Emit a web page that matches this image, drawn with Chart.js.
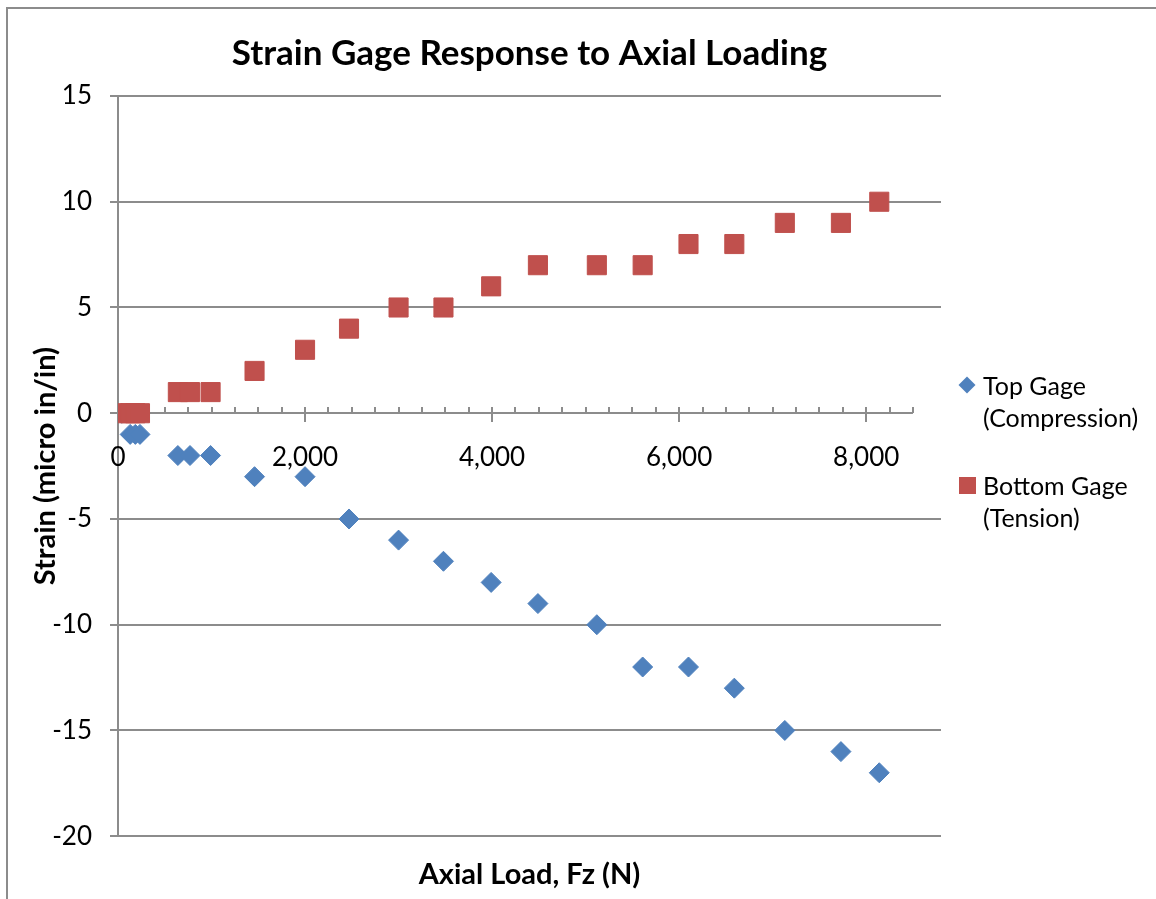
<!DOCTYPE html>
<html>
<head>
<meta charset="utf-8">
<title>Strain Gage Response to Axial Loading</title>
<script src="https://cdn.jsdelivr.net/npm/chart.js@4.4.1/dist/chart.umd.min.js"></script>
<style>
  html, body { margin: 0; padding: 0; background: #fff; }
  #wrap { position: relative; width: 1156px; height: 899px; overflow: hidden; }
  #frame { position: absolute; left: 6px; top: 7px; width: 1300px; height: 1000px;
           border-left: 2px solid #8c8c8c; border-top: 2px solid #8c8c8c; }
  canvas { position: absolute; left: 0; top: 0; }
  #legend { position: absolute; left: 983px; top: 369px; font-family: Lato, sans-serif;
            font-size: 25px; line-height: 32px; color: #000; }
  .item { position: relative; white-space: pre-line; margin-bottom: 36px; }
  .mk { position: absolute; }
</style>
</head>
<body>
<div id="wrap">
  <div id="frame"></div>
  <canvas id="strainChart" width="1156" height="899"></canvas>
  <div id="legend"></div>
</div>
<script>
"use strict";

// axial load (N)
const LOAD_N = [40, 130, 185, 235, 640, 770, 990, 1460, 2000, 2470, 3000,
                3480, 3990, 4490, 5120, 5610, 6100, 6590, 7130, 7730, 8140];
// strain (micro in/in)
const TOP_GAGE = [0, -1, -1, -1, -2, -2, -2, -3, -3, -5, -6,
                  -7, -8, -9, -10, -12, -12, -13, -15, -16, -17];
const BOTTOM_GAGE = [0, 0, 0, 0, 1, 1, 1, 2, 3, 4, 5,
                     5, 6, 7, 7, 7, 8, 8, 9, 9, 10];

const SERIES_NAMES = ["Top Gage (Compression)", "Bottom Gage (Tension)"];
const X_TICKS = [0, 2000, 4000, 6000, 8000];
const X_MINOR = 250;
const X_AXIS_END = 8500;

const BLUE = "#4F81BD";
const RED = "#C0504D";
const GRID = "#8c8c8c";
const FONT = "Lato, sans-serif";

Chart.defaults.font.family = FONT;
Chart.defaults.color = "#000";

function toPoints(ys) {
  return ys.map((y, i) => ({ x: LOAD_N[i], y }));
}

// the x axis crosses at y = 0: line, minor/major ticks and labels
const axisAtZero = {
  id: "axisAtZero",
  beforeDatasetsDraw(chart) {
    const xs = chart.scales.x, ys = chart.scales.y;
    const y0 = Math.round(ys.getPixelForValue(0));
    const ctx = chart.ctx;
    ctx.save();
    ctx.strokeStyle = GRID;
    ctx.lineWidth = 2;
    ctx.beginPath();
    ctx.moveTo(xs.getPixelForValue(0), y0);
    ctx.lineTo(xs.getPixelForValue(X_AXIS_END), y0);
    for (let v = X_MINOR; v <= X_AXIS_END; v += X_MINOR) {
      const px = Math.round(xs.getPixelForValue(v));
      ctx.moveTo(px, y0 - 6);
      ctx.lineTo(px, X_TICKS.includes(v) ? y0 + 9 : y0);
    }
    ctx.stroke();

    ctx.fillStyle = "#000";
    ctx.font = "26px " + FONT;
    ctx.textAlign = "center";
    ctx.textBaseline = "middle";
    X_TICKS.forEach(v => {
      ctx.fillText(v.toLocaleString("en-US"), xs.getPixelForValue(v), y0 + 45);
    });
    ctx.restore();
  }
};

const ctx = document.getElementById("strainChart").getContext("2d");
new Chart(ctx, {
  type: "scatter",
  data: {
    datasets: [
      {
        label: SERIES_NAMES[0],
        data: toPoints(TOP_GAGE),
        pointStyle: "rectRot",
        pointRadius: 10,
        pointHoverRadius: 10,
        backgroundColor: BLUE,
        borderColor: BLUE,
        borderWidth: 1,
        order: 2
      },
      {
        label: SERIES_NAMES[1],
        data: toPoints(BOTTOM_GAGE),
        pointStyle: "rect",
        pointRadius: 13.5,
        pointHoverRadius: 13.5,
        backgroundColor: RED,
        borderColor: RED,
        borderWidth: 1,
        order: 1
      }
    ]
  },
  plugins: [axisAtZero],
  options: {
    responsive: false,
    animation: false,
    locale: "en-US",
    layout: { padding: { left: 0, right: 215, top: 0, bottom: 0 } },
    plugins: {
      legend: { display: false },
      tooltip: { enabled: false },
      title: {
        display: true,
        text: "Strain Gage Response to Axial Loading",
        fullSize: false,
        font: { size: 35, weight: "bold" },
        padding: { top: 33, bottom: 21 }
      },
      subtitle: {
        display: true,
        position: "bottom",
        text: "Axial Load, Fz (N)",
        fullSize: false,
        font: { size: 29, weight: "bold" },
        padding: { top: 21, bottom: 7 }
      }
    },
    scales: {
      x: {
        type: "linear",
        min: 0,
        max: 8800,
        display: false
      },
      y: {
        min: -20,
        max: 15,
        afterFit(scale) { scale.width = 118; },
        ticks: { stepSize: 5, padding: 18, font: { size: 26 } },
        grid: {
          color: c => (c.tick && c.tick.value === 0 ? "rgba(0,0,0,0)" : GRID),
          lineWidth: 2,
          tickLength: 8,
          tickColor: GRID
        },
        border: { color: GRID, width: 2 },
        title: {
          display: true,
          text: "Strain (micro in/in)",
          font: { size: 29, weight: "bold" },
          padding: { top: 28 }
        }
      }
    }
  }
});

// legend drawn as html so the labels can wrap onto two lines
const legend = document.getElementById("legend");
const markers = [
  { color: BLUE, size: 12, rotate: 45 },
  { color: RED, size: 17, rotate: 0 }
];
SERIES_NAMES.forEach((name, i) => {
  const item = document.createElement("div");
  item.className = "item";
  item.textContent = name.replace(" (", "\n(");
  const m = markers[i];
  const mk = document.createElement("span");
  mk.className = "mk";
  mk.style.width = m.size + "px";
  mk.style.height = m.size + "px";
  mk.style.background = m.color;
  mk.style.left = (-16 - m.size / 2) + "px";
  mk.style.top = (16 - m.size / 2) + "px";
  mk.style.transform = "rotate(" + m.rotate + "deg)";
  item.appendChild(mk);
  legend.appendChild(item);
});
</script>
</body>
</html>
